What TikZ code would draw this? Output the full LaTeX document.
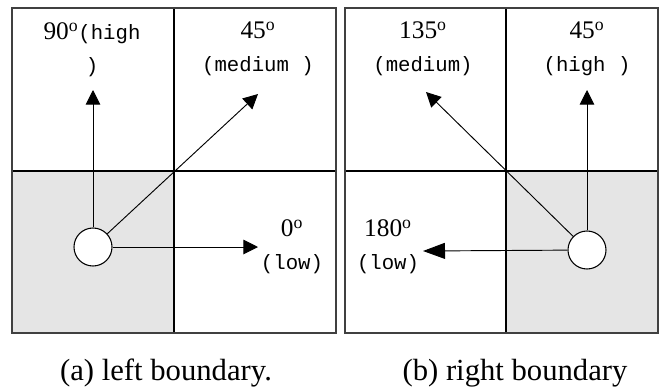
\documentclass[tikz,border=0pt]{standalone}
\usepackage{fontspec}
\setmainfont{Liberation Serif}
\newfontfamily\cellmono{Liberation Mono}
\usetikzlibrary{arrows.meta}
\newcommand{\angl}[1]{{\fontsize{19}{24.5}\selectfont #1\textsuperscript{o}}}
\begin{document}
\begin{tikzpicture}[x=0.75pt, y=-0.75pt,
  frame/.style={draw=black!75, line width=1pt},
  grid/.style={draw=black, line width=0.8pt},
  cellgray/.style={fill=black!10},
  agent/.style={circle, draw=black, fill=white, line width=0.8pt, minimum size=28.5pt, inner sep=0pt},
  vec/.style={line width=0.7pt, -{Triangle[length=11pt, width=11pt]}},
  bigvec/.style={line width=0.7pt, -{Triangle[length=16.5pt, width=12pt]}},
  lab/.style={align=center, inner sep=0pt, font=\fontsize{15.5}{24.5}\selectfont},
  captext/.style={inner sep=0pt, font=\fontsize{23}{27}\selectfont}]
\useasboundingbox (0,0) rectangle (659,390);
% (a) left boundary: agent sits in the lower left cell
\fill[cellgray] (12,171) rectangle (174,333);
\draw[grid] (174,8) -- (174,333);
\draw[grid] (12,171) -- (336,171);
\draw[frame] (12,8) rectangle (336,333);
\node[agent] (pa) at (93,247) {};
\coordinate (upA) at (93,90);
\coordinate (diagA) at (258,94);
\coordinate (rightA) at (258,247);
\draw[vec] (pa) -- (upA);
\draw[vec] (pa) -- (diagA);
\draw[vec] (pa) -- (rightA);
\node[lab] (highA) at (92,50) {\angl{90}{\cellmono(high}\\{\cellmono)}};
\node[lab] (medA) at (258,49) {\angl{45}\\{\cellmono(medium )}};
\node[lab] (lowA) at (292,247) {\angl{0}\\{\cellmono(low)}};
% (b) right boundary: agent sits in the lower right cell
\fill[cellgray] (506,171) rectangle (658,333);
\draw[grid] (506,8) -- (506,333);
\draw[grid] (345,171) -- (658,171);
\draw[frame] (345,8) rectangle (658,333);
\node[agent] (pb) at (587,250) {};
\coordinate (upB) at (587,90);
\coordinate (diagB) at (426,92);
\coordinate (leftB) at (423,251);
\draw[vec] (pb) -- (upB);
\draw[vec] (pb) -- (diagB);
\draw[bigvec] (pb) -- (leftB);
\node[lab] (medB) at (423,49) {\angl{135}\\{\cellmono(medium)}};
\node[lab] (highB) at (587,49) {\angl{45}\\{\cellmono(high )}};
\node[lab] (lowB) at (388,247) {\angl{180}\\{\cellmono(low)}};
% captions
\node[captext] (capA) at (166,373) {(a) left boundary.};
\node[captext] (capB) at (515,373) {(b) right boundary};
\end{tikzpicture}
\end{document}
